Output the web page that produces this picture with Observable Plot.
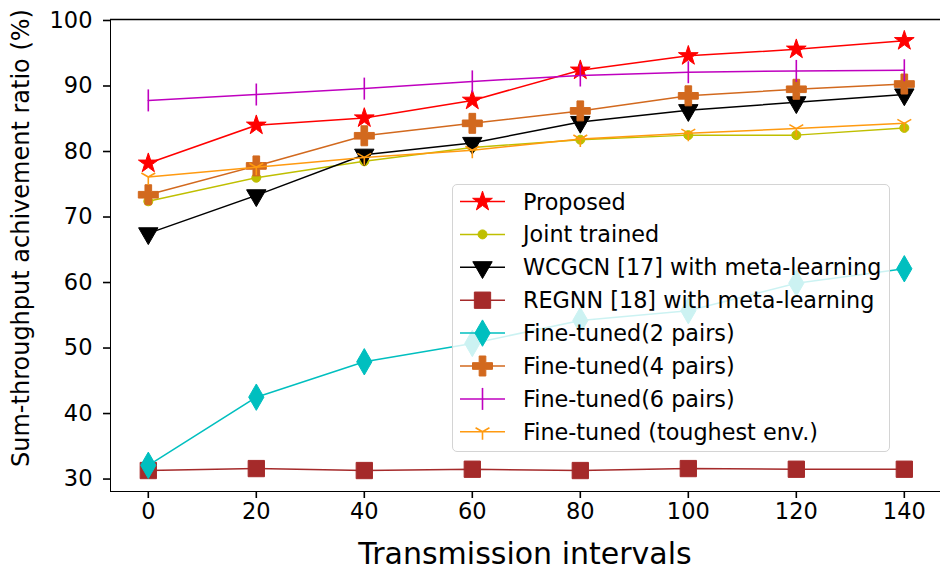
<!DOCTYPE html>
<html>
<head>
<meta charset="utf-8">
<script src="https://cdn.jsdelivr.net/npm/d3@7"></script>
<script src="https://cdn.jsdelivr.net/npm/@observablehq/plot@0.6"></script>
<style>
  html, body { margin: 0; padding: 0; background: #fff; }
  #wrap { position: relative; width: 940px; height: 577px; font-family: "DejaVu Sans", sans-serif; overflow: hidden; }
  .lab { position: absolute; color: #000; white-space: nowrap; font-family: "DejaVu Sans", sans-serif; }
  #legend { position: absolute; left: 452px; top: 184px; width: 438px; height: 268px; box-sizing: border-box;
            background: rgba(255,255,255,0.8); border: 1.5px solid #d4d4d4; border-radius: 5px; }
</style>
</head>
<body>
<div id="wrap"></div>
<script>
// ---- data ----
const intervals = [0, 20, 40, 60, 80, 100, 120, 140];
const proposed    = [78.2, 84.0, 85.1, 87.8, 92.4, 94.6, 95.6, 96.9];
const jointTrained = [72.4, 76.0, 78.5, 80.6, 81.8, 82.5, 82.5, 83.6];
const wcgcnMeta   = [67.5, 73.3, 79.5, 81.3, 84.5, 86.3, 87.5, 88.7];
const regnnMeta   = [31.3, 31.6, 31.3, 31.5, 31.3, 31.6, 31.5, 31.5];
const fineTuned2  = [32.1, 42.5, 47.9, 50.7, 54.2, 55.7, 59.9, 62.1];
const fineTuned4  = [73.4, 77.8, 82.4, 84.3, 86.2, 88.5, 89.5, 90.3];
const fineTuned6  = [87.8, 88.7, 89.6, 90.7, 91.6, 92.1, 92.3, 92.4];
const toughest    = [76.1, 77.6, 79.1, 80.2, 81.9, 82.8, 83.5, 84.3];
const xTicks = [0, 20, 40, 60, 80, 100, 120, 140];
const yTicks = [30, 40, 50, 60, 70, 80, 90, 100];

// custom stroke symbols
const vline = { draw(ctx, size) { const r = Math.sqrt(size / Math.PI); ctx.moveTo(0, -r); ctx.lineTo(0, r); } };
const triDown = { draw(ctx, size) { const r = Math.sqrt(size / Math.PI);
  ctx.moveTo(0, 0); ctx.lineTo(0, r);
  ctx.moveTo(0, 0); ctx.lineTo(-0.866 * r, -0.5 * r);
  ctx.moveTo(0, 0); ctx.lineTo(0.866 * r, -0.5 * r); } };

const series = [
  { name: "Proposed", values: proposed, color: "#ff0000", symbol: "star", r: 6.2, filled: true },
  { name: "Joint trained", values: jointTrained, color: "#bfbf00", symbol: "circle", r: 4.5, filled: true },
  { name: "WCGCN [17] with meta-learning", values: wcgcnMeta, color: "#000000", symbol: "triangle", r: 7.2, filled: true, rotate: 180 },
  { name: "REGNN [18] with meta-learning", values: regnnMeta, color: "#a52a2a", symbol: "square", r: 9.2, filled: true },
  { name: "Fine-tuned(2 pairs)", values: fineTuned2, color: "#00bfbf", symbol: "diamond", r: 8, filled: true },
  { name: "Fine-tuned(4 pairs)", values: fineTuned4, color: "#d2691e", symbol: "cross", r: 8.4, filled: true },
  { name: "Fine-tuned(6 pairs)", values: fineTuned6, color: "#bf00bf", symbol: vline, r: 11, filled: false },
  { name: "Fine-tuned (toughest env.)", values: toughest, color: "#ff9a10", symbol: triDown, r: 8, filled: false }
];

const marks = [];
for (const s of series) {
  const rows = intervals.map((x, i) => ({ x, y: s.values[i] }));
  marks.push(Plot.line(rows, { x: "x", y: "y", stroke: s.color, strokeWidth: 1.5 }));
  marks.push(Plot.dot(rows, {
    x: "x", y: "y", symbol: s.symbol, r: s.r,
    fill: s.filled ? s.color : "none", stroke: s.color, strokeWidth: s.filled ? 1 : 1.6,
    rotate: s.rotate || 0
  }));
}
const yMax = 100.15, yMin = 28.1;
marks.push(Plot.ruleY([yMax], { stroke: "#000", strokeWidth: 1.6 }));

const chart = Plot.plot({
  width: 940, height: 577,
  marginLeft: 110, marginRight: 0, marginTop: 19, marginBottom: 86,
  style: { fontFamily: "DejaVu Sans, sans-serif", fontSize: "22.5px", color: "#000", background: "#fff", overflow: "visible" },
  x: { domain: [-7, 146.7], ticks: xTicks, tickSize: 7, tickPadding: 5, label: null, line: true },
  y: { domain: [yMin, yMax], ticks: yTicks, tickSize: 7, tickPadding: 11, label: null, line: true },
  marks
});
chart.querySelectorAll("[aria-label='x-axis tick'], [aria-label='y-axis tick'], [aria-label='x-axis line'], [aria-label='y-axis line']").forEach(g => { g.setAttribute("stroke-width", "1.6"); });

const wrap = document.getElementById("wrap");
wrap.appendChild(chart);

// axis labels
const xl = document.createElement("div");
xl.className = "lab"; xl.textContent = "Transmission intervals";
xl.style.fontSize = "30px"; xl.style.left = "525px"; xl.style.top = "536px"; xl.style.transform = "translateX(-50%)";
wrap.appendChild(xl);
const yl = document.createElement("div");
yl.className = "lab"; yl.textContent = "Sum-throughput achivement ratio (%)";
yl.style.fontSize = "24px"; yl.style.left = "21px"; yl.style.top = "238px";
yl.style.transform = "translate(-50%, -50%) rotate(-90deg)";
wrap.appendChild(yl);

// legend
const leg = document.createElement("div");
leg.id = "legend";
wrap.appendChild(leg);
const lsvg = d3.select(leg).append("svg").attr("width", 436).attr("height", 266)
  .style("position", "absolute").style("left", "0px").style("top", "0px").style("overflow", "visible");
series.forEach((s, i) => {
  const cy = 16.5 + i * 32.9;
  const g = lsvg.append("g");
  g.append("line").attr("x1", 7).attr("x2", 52).attr("y1", cy).attr("y2", cy)
    .attr("stroke", s.color).attr("stroke-width", 1.5);
  const type = typeof s.symbol === "string"
    ? ({ star: d3.symbolStar, circle: d3.symbolCircle, triangle: d3.symbolTriangle, square: d3.symbolSquare, diamond: d3.symbolDiamond, cross: d3.symbolCross })[s.symbol]
    : s.symbol;
  g.append("path").attr("d", d3.symbol(type, Math.PI * s.r * s.r)())
    .attr("transform", `translate(29.5,${cy}) rotate(${s.rotate || 0})`)
    .attr("fill", s.filled ? s.color : "none").attr("stroke", s.color).attr("stroke-width", s.filled ? 1 : 1.6);
  g.append("text").attr("x", 70).attr("y", cy).attr("dy", "0.36em")
    .attr("font-family", "DejaVu Sans, sans-serif").attr("font-size", 22.3).attr("fill", "#000").text(s.name);
});
</script>
</body>
</html>
